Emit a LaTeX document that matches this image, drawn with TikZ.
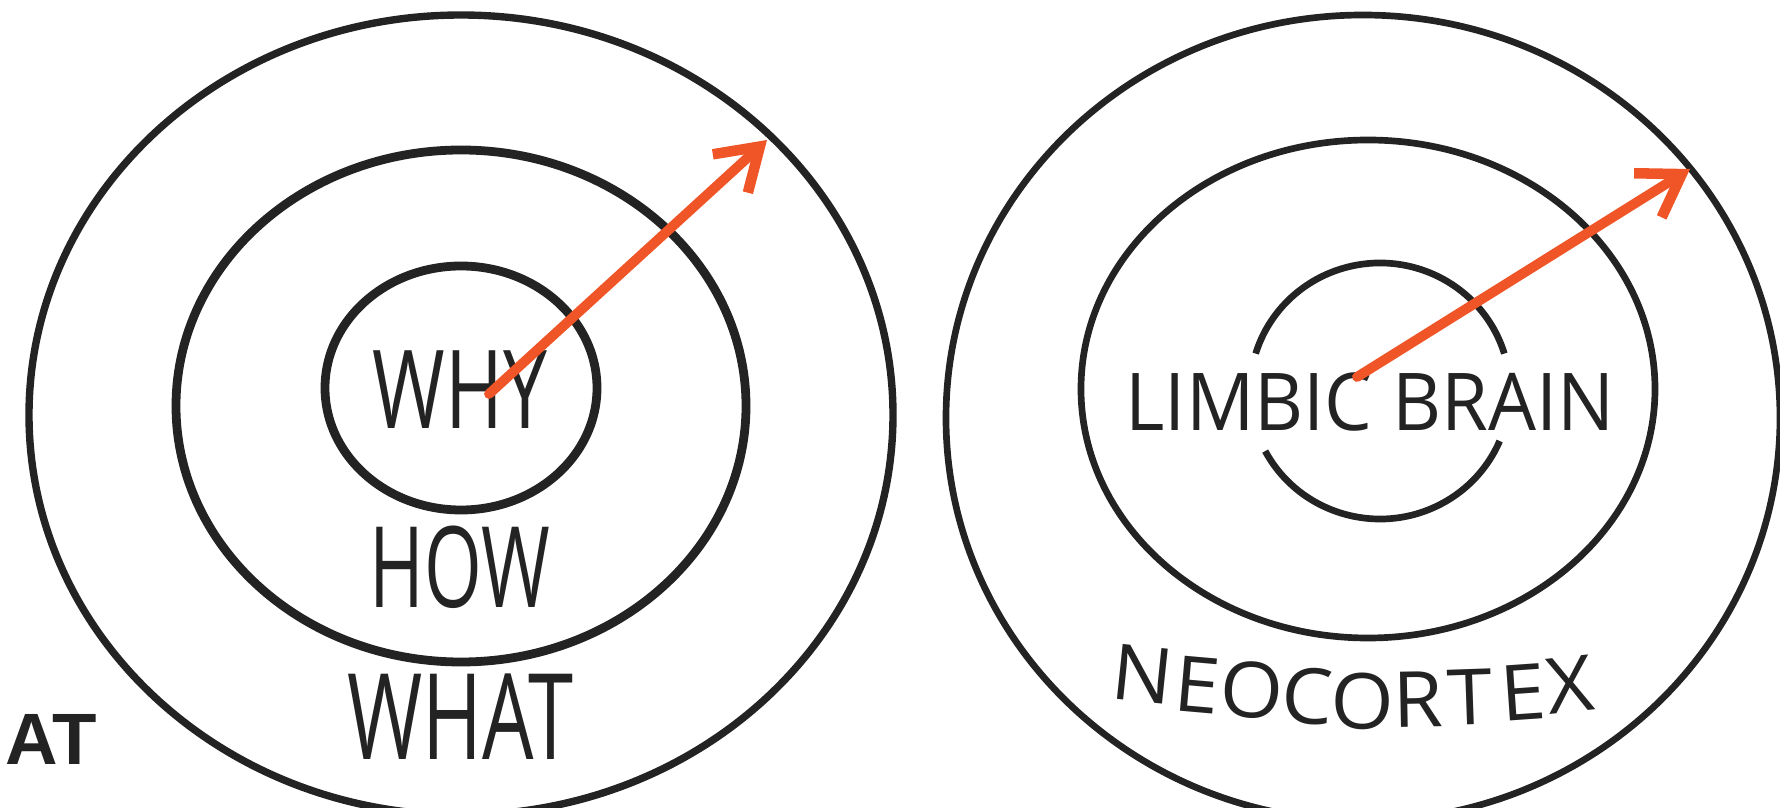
\documentclass[tikz,border=0pt]{standalone}
\usepackage{fontspec}
\setmainfont{Open Sans}
\newfontfamily\boldsans{Liberation Sans}
\usetikzlibrary{arrows.meta}
\definecolor{ink}{RGB}{35,35,35}
\definecolor{flame}{RGB}{240,85,40}

\begin{document}
\begin{tikzpicture}[
    ring/.style={draw=ink, line width=2.5pt},
    thinring/.style={draw=ink, line width=1.9pt},
    word/.style={text=ink, inner sep=0pt},
    push/.style={draw=flame, line width=2.8pt, line cap=round,
      -{Straight Barb[length=4mm, width=5.2mm, line width=3pt]}}
  ]
    \useasboundingbox (0,0) rectangle (17.8,8.08);

    % golden circle
    \draw[ring, line width=2.1pt] (4.61,3.93) ellipse [x radius=4.32, y radius=4.00];
    \draw[ring] (4.61,4.02) ellipse [x radius=2.85, y radius=2.56];
    \draw[ring] (4.61,4.20) ellipse [x radius=1.36, y radius=1.22];
    \node[word, font=\fontsize{31}{31}\selectfont] (whyText) at (4.60,4.18) {\scalebox{0.72}[1]{WHY}};
    \node[word, font=\fontsize{32}{32}\selectfont] (howText) at (4.60,2.41) {\scalebox{0.66}[1]{HOW}};
    \node[word, font=\fontsize{34}{34}\selectfont] (whatText) at (4.60,0.91) {\scalebox{0.68}[1]{WHAT}};
    \node[word, font=\boldsans\bfseries\fontsize{20.7}{20.7}\selectfont] (atText) at (0.51,0.69) {AT};

    % brain
    \draw[thinring] (13.63,3.90) ellipse [x radius=4.17, y radius=4.03];
    \draw[thinring] (13.68,4.19) ellipse [x radius=2.87, y radius=2.49];
    \draw[thinring] (13.80,4.17) ++(17:1.30 and 1.28) arc [start angle=17, end angle=163, x radius=1.30, y radius=1.28];
    \draw[thinring] (13.80,4.17) ++(208:1.30 and 1.28) arc [start angle=208, end angle=337, x radius=1.30, y radius=1.28];
    \node[word, font=\fontsize{22.7}{22.7}\selectfont] (limbicText) at (13.70,4.06) {\scalebox{0.95}[1]{LIMBIC BRAIN}};
    \foreach \ch/\x/\y/\r [count=\i] in {N/11.43/1.34/-6, E/11.97/1.23/-5, O/12.52/1.18/-4,
        C/13.08/1.12/-3, O/13.63/1.07/-1, R/14.18/1.09/1, T/14.70/1.11/2, E/15.23/1.16/4, X/15.70/1.23/6} {
      \node[word, inner xsep=-1pt, rotate=\r, font=\fontsize{22}{22}\selectfont] (neo\i) at (\x,\y) {\scalebox{1.05}[1]{\ch}};
    }

    % arrows
    \coordinate (whyFrom) at (4.89,4.14);
    \coordinate (whyTo) at (7.67,6.68);
    \coordinate (limbicFrom) at (13.57,4.31);
    \coordinate (limbicTo) at (16.90,6.39);
    \draw[push] (whyFrom) -- (whyTo);
    \draw[push] (limbicFrom) -- (limbicTo);
\end{tikzpicture}
\end{document}
